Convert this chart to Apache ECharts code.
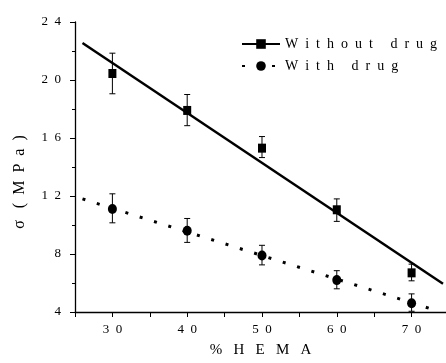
<!DOCTYPE html>
<html lang="en">
<head>
<meta charset="UTF-8">
<script src="https://cdn.jsdelivr.net/npm/echarts@6.0.0/dist/echarts.min.js"></script>
<title>Tensile strength vs HEMA</title>
<style>html,body{margin:0;padding:0;background:#fff;}</style>
</head>
<body>
<div id="main" style="width:446px;height:363px;"></div>
<script type="text/javascript">
// values
var hema = [30, 40, 50, 60, 70];
var withoutDrug = [20.45, 17.9, 15.3, 11.05, 6.7];
var withoutLow = [19.05, 16.85, 14.65, 10.25, 6.15];
var withoutHigh = [21.85, 19.0, 16.1, 11.8, 7.3];
var withDrug = [11.1, 9.6, 7.9, 6.2, 4.6];
var withLow = [10.15, 8.8, 7.25, 5.6, 4.05];
var withHigh = [12.15, 10.45, 8.6, 6.85, 5.25];
// fitted lines (end points)
var fitWithoutX = [26, 74.2];
var fitWithoutY = [22.55, 5.95];
var fitWithX = [26, 72.7];
var fitWithY = [11.8, 4.2];
var seriesNames = ['Without drug', 'With drug'];

var font = 'Liberation Serif';

// spread letters like the original figure
function spaced(s) {
  return String(s).split('').join('\u2002');
}
function pairs(xs, ys) {
  return xs.map(function (x, i) { return [x, ys[i]]; });
}
function errData(xs, lo, hi) {
  return xs.map(function (x, i) { return [x, lo[i], hi[i]]; });
}
function renderErr(params, api) {
  var top = api.coord([api.value(0), api.value(2)]);
  var bot = api.coord([api.value(0), api.value(1)]);
  var cap = 3;
  var st = { stroke: '#000', lineWidth: 1 };
  return {
    type: 'group',
    children: [
      { type: 'line', shape: { x1: top[0], y1: top[1], x2: bot[0], y2: bot[1] }, style: st },
      { type: 'line', shape: { x1: top[0] - cap, y1: top[1], x2: top[0] + cap, y2: top[1] }, style: st },
      { type: 'line', shape: { x1: bot[0] - cap, y1: bot[1], x2: bot[0] + cap, y2: bot[1] }, style: st }
    ]
  };
}

var myChart = echarts.init(document.getElementById('main'));

var option = {
  animation: false,
  backgroundColor: '#fff',
  grid: { left: 75, right: 0, top: 22, bottom: 47 },
  legend: {
    data: seriesNames,
    orient: 'vertical',
    left: 236,
    top: 32,
    itemWidth: 38,
    itemHeight: 12,
    itemGap: 8,
    formatter: function (name) { return spaced(name); },
    textStyle: { fontFamily: font, fontSize: 14, color: '#000' }
  },
  xAxis: {
    type: 'value',
    min: 25,
    max: 74.6,
    interval: 5,
    name: '%\u2002 H\u2002 E\u2002 M\u2002 A',
    nameLocation: 'middle',
    nameGap: 31,
    nameTextStyle: { fontFamily: font, fontSize: 15, color: '#000' },
    axisLine: { lineStyle: { color: '#000', width: 1.3 } },
    axisTick: { length: 5, lineStyle: { color: '#000', width: 1 } },
    axisLabel: {
      margin: 11,
      fontFamily: font,
      fontSize: 13,
      color: '#000',
      showMaxLabel: false,
      formatter: function (v) { return (v % 10 === 0) ? spaced(v) : ''; }
    },
    splitLine: { show: false }
  },
  yAxis: {
    type: 'value',
    min: 4,
    max: 24,
    interval: 4,
    name: 'σ\u2002 (\u2002M\u2002P\u2002a\u2002)',
    nameLocation: 'middle',
    nameGap: 47,
    nameTextStyle: { fontFamily: font, fontSize: 16, color: '#000', padding: [0, 30, 0, 0] },
    axisLine: { show: true, lineStyle: { color: '#000', width: 1.3 } },
    axisTick: { show: true, length: 5, lineStyle: { color: '#000', width: 1 } },
    minorTick: { show: true, splitNumber: 2, length: 3, lineStyle: { color: '#000', width: 1 } },
    axisLabel: {
      margin: 14,
      fontFamily: font,
      fontSize: 13,
      color: '#000',
      formatter: function (v) { return spaced(v); }
    },
    splitLine: { show: false }
  },
  series: [
    {
      name: seriesNames[0],
      type: 'line',
      data: pairs(fitWithoutX, fitWithoutY),
      symbol: 'rect',
      symbolSize: [8, 9],
      showSymbol: false,
      lineStyle: { color: '#000', width: 2.5 },
      itemStyle: { color: '#000' },
      z: 2
    },
    {
      name: seriesNames[1],
      type: 'line',
      data: pairs(fitWithX, fitWithY),
      symbol: 'circle',
      symbolSize: [9, 10],
      showSymbol: false,
      lineStyle: { color: '#000', width: 3, type: [3, 12] },
      itemStyle: { color: '#000' },
      z: 2
    },
    {
      type: 'custom',
      renderItem: renderErr,
      data: errData(hema, withoutLow, withoutHigh),
      z: 3
    },
    {
      type: 'custom',
      renderItem: renderErr,
      data: errData(hema, withLow, withHigh),
      z: 3
    },
    {
      type: 'scatter',
      data: pairs(hema, withoutDrug),
      symbol: 'rect',
      symbolSize: [8, 9],
      itemStyle: { color: '#000', opacity: 1 },
      z: 4
    },
    {
      type: 'scatter',
      data: pairs(hema, withDrug),
      symbol: 'circle',
      symbolSize: [9, 10],
      itemStyle: { color: '#000', opacity: 1 },
      z: 4
    }
  ]
};

myChart.setOption(option);
</script>
</body>
</html>
